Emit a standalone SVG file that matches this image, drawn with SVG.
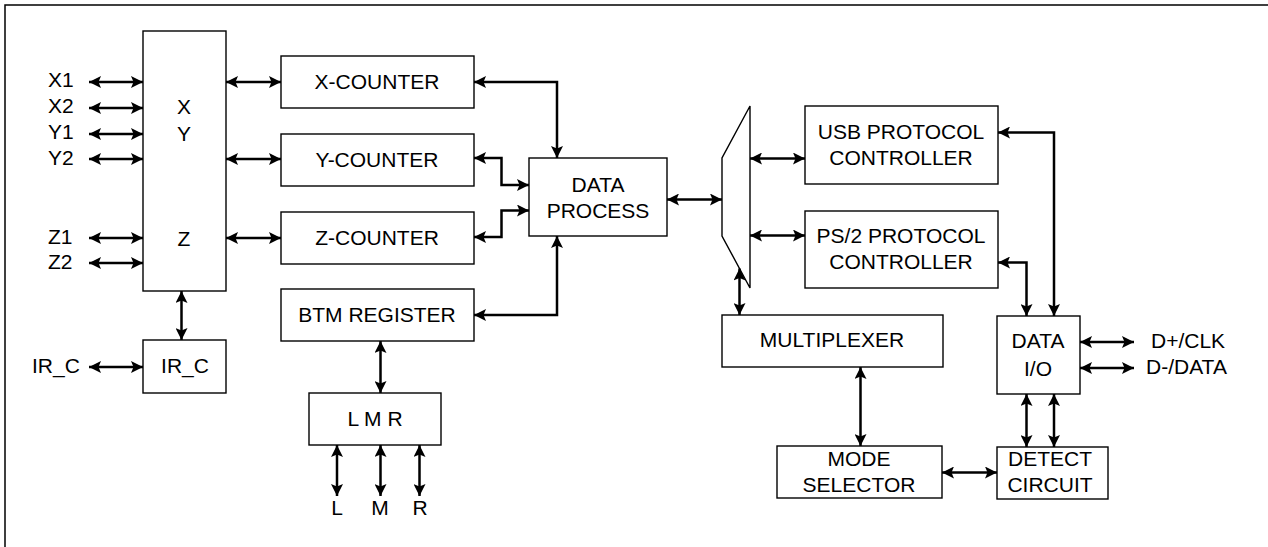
<svg xmlns="http://www.w3.org/2000/svg" width="1268" height="547" viewBox="0 0 1268 547">
<style>
.box{fill:#fff;stroke:#000;stroke-width:1.4}
.t{font-family:"Liberation Sans",Arial,sans-serif;font-size:21px;fill:#000;text-anchor:middle}
.l{font-family:"Liberation Sans",Arial,sans-serif;font-size:21px;fill:#000}
.c{fill:none;stroke:#000;stroke-width:2.5;marker-start:url(#ah);marker-end:url(#ah)}
</style>
<defs>
<marker id="ah" viewBox="0 0 12 12" refX="12" refY="6" markerWidth="12" markerHeight="12" markerUnits="userSpaceOnUse" orient="auto-start-reverse">
<path d="M0,0 L12,6 L0,12 L2.5,6 z" fill="#000"/>
</marker>
</defs>
<rect width="1268" height="547" fill="#fff"/>
<path d="M5,547 V5 H1268" fill="none" stroke="#000" stroke-width="1.5"/>

<g id="xyz"><rect class="box" x="143" y="31" width="83" height="260"/>
<text class="t" x="184" y="114">X</text><text class="t" x="184" y="141">Y</text><text class="t" x="184" y="246">Z</text></g>
<g id="pins">
<text class="l" x="48" y="87">X1</text><text class="l" x="48" y="113">X2</text>
<text class="l" x="48" y="139">Y1</text><text class="l" x="48" y="165">Y2</text>
<text class="l" x="48" y="244">Z1</text><text class="l" x="48" y="269">Z2</text>
<text class="l" x="32" y="373">IR_C</text>
<text class="t" x="337" y="515">L</text><text class="t" x="380" y="515">M</text><text class="t" x="420" y="515">R</text>
<text class="l" x="1151" y="348">D+/CLK</text><text class="l" x="1146" y="374">D-/DATA</text>
</g>
<g id="irc"><rect class="box" x="143" y="340" width="83" height="53"/><text class="t" x="185" y="373">IR_C</text></g>
<g id="xcounter"><rect class="box" x="281" y="56" width="193" height="52"/><text class="t" x="377" y="89">X-COUNTER</text></g>
<g id="ycounter"><rect class="box" x="281" y="134" width="193" height="52"/><text class="t" x="377" y="167">Y-COUNTER</text></g>
<g id="zcounter"><rect class="box" x="281" y="212" width="193" height="52"/><text class="t" x="377" y="245">Z-COUNTER</text></g>
<g id="btm"><rect class="box" x="281" y="289" width="193" height="52"/><text class="t" x="377" y="322">BTM REGISTER</text></g>
<g id="lmr"><rect class="box" x="309" y="393" width="132" height="52"/><text class="t" x="375" y="426">L M R</text></g>
<g id="dataprocess"><rect class="box" x="529" y="158" width="138" height="78"/><text class="t" x="598" y="192">DATA</text><text class="t" x="598" y="218">PROCESS</text></g>
<g id="mux"><path class="box" d="M750,106 V288 L722,236 V158 Z"/></g>
<g id="usb"><rect class="box" x="805" y="106" width="193" height="78"/><text class="t" x="901" y="139">USB PROTOCOL</text><text class="t" x="901" y="165">CONTROLLER</text></g>
<g id="ps2"><rect class="box" x="805" y="211" width="193" height="77"/><text class="t" x="901" y="243">PS/2 PROTOCOL</text><text class="t" x="901" y="269">CONTROLLER</text></g>
<g id="multiplexer"><rect class="box" x="722" y="315" width="221" height="52"/><text class="t" x="832" y="347">MULTIPLEXER</text></g>
<g id="modeselector"><rect class="box" x="777" y="446" width="165" height="52"/><text class="t" x="859" y="466">MODE</text><text class="t" x="859" y="492">SELECTOR</text></g>
<g id="dataio"><rect class="box" x="997" y="316" width="83" height="78"/><text class="t" x="1038" y="348">DATA</text><text class="t" x="1038" y="376">I/O</text></g>
<g id="detect"><rect class="box" x="997" y="447" width="111" height="52"/><text class="t" x="1050" y="466">DETECT</text><text class="t" x="1050" y="492">CIRCUIT</text></g>

<g id="connectors">
<path class="c" d="M89,82 H143"/>
<path class="c" d="M89,108 H143"/>
<path class="c" d="M89,134 H143"/>
<path class="c" d="M89,159 H143"/>
<path class="c" d="M89,238 H143"/>
<path class="c" d="M89,263 H143"/>
<path class="c" d="M89,367 H143"/>
<path class="c" d="M181.5,291 V340"/>
<path class="c" d="M226,82 H281"/>
<path class="c" d="M226,159 H281"/>
<path class="c" d="M226,238 H281"/>
<path class="c" d="M474,82 H557 V158"/>
<path class="c" d="M474,158 H501.5 V185 H529"/>
<path class="c" d="M474,237 H501.5 V210.5 H529"/>
<path class="c" d="M474,315 H557 V236"/>
<path class="c" d="M380.5,341 V393"/>
<path class="c" d="M337,445 V496"/>
<path class="c" d="M380.5,445 V496"/>
<path class="c" d="M419.5,445 V496"/>
<path class="c" d="M667,199.5 H722"/>
<path class="c" d="M750,158.5 H805"/>
<path class="c" d="M750,235.5 H805"/>
<path class="c" d="M739.5,268.5 V315"/>
<path class="c" d="M998,132.5 H1054 V316"/>
<path class="c" d="M998,262.5 H1026.5 V316"/>
<path class="c" d="M1026.5,394 V447"/>
<path class="c" d="M1054,394 V447"/>
<path class="c" d="M1080,342 H1134"/>
<path class="c" d="M1080,368 H1134"/>
<path class="c" d="M860.5,367 V446"/>
<path class="c" d="M942,472.5 H997"/>
</g>
</svg>
